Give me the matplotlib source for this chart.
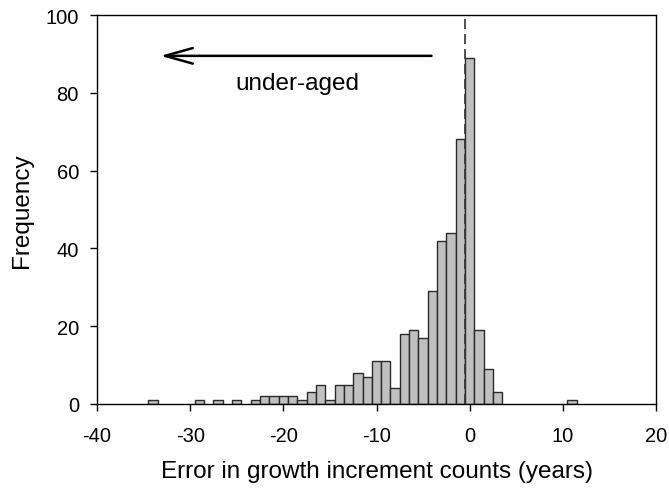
import matplotlib
matplotlib.use("Agg")
import matplotlib.pyplot as plt

plt.rcParams['font.family'] = ['Liberation Sans', 'DejaVu Sans']
plt.rcParams['axes.unicode_minus'] = False

# Histogram bins (centered on integer error values) and their frequencies
error_years = [-34, -29, -27, -25, -23, -22, -21, -20, -19, -18, -17, -16, -15,
               -14, -13, -12, -11, -10, -9, -8, -7, -6, -5, -4, -3, -2, -1,
               0, 1, 2, 3, 11]
frequency = [1, 1, 1, 1, 1, 2, 2, 2, 2, 1, 3, 5, 1,
             5, 5, 8, 7, 11, 11, 4, 18, 19, 17, 29, 42, 44, 68,
             89, 19, 9, 3, 1]

x_ticks = [-40, -30, -20, -10, 0, 10, 20]
y_ticks = [0, 20, 40, 60, 80, 100]

fig = plt.figure(figsize=(6.69, 4.89), dpi=100)
ax = fig.add_axes([97/669, 1-405/489, (656-97)/669, (405-16)/489])

ax.bar(error_years, frequency, width=1.0, color='#c0c0c0',
       edgecolor='#2a2a2a', linewidth=1.0, zorder=2)

ax.axvline(-0.5, color='#333333', linestyle=(0, (6, 3)), linewidth=1.2, zorder=3)

ax.annotate('', xy=(-33.2, 89.5), xytext=(-4.1, 89.5),
            arrowprops=dict(arrowstyle='->,head_length=1.0,head_width=0.28',
                            mutation_scale=20, color='black', lw=1.8,
                            shrinkA=0, shrinkB=0))
ax.text(-18.5, 82.5, 'under-aged', ha='center', va='center', fontsize=17.5)

ax.set_xlim(-40, 20)
ax.set_ylim(0, 100)
ax.set_xticks(x_ticks)
ax.set_yticks(y_ticks)
ax.tick_params(direction='out', length=5, labelsize=14.5, width=1)
ax.tick_params(axis='x', pad=11)
ax.tick_params(axis='y', pad=8)
for s in ax.spines.values():
    s.set_linewidth(1.0)
ax.set_xlabel('Error in growth increment counts (years)', fontsize=17.5, labelpad=11)
ax.set_ylabel('Frequency', fontsize=17.5, labelpad=9)

fig.savefig('out.png', dpi=100)
